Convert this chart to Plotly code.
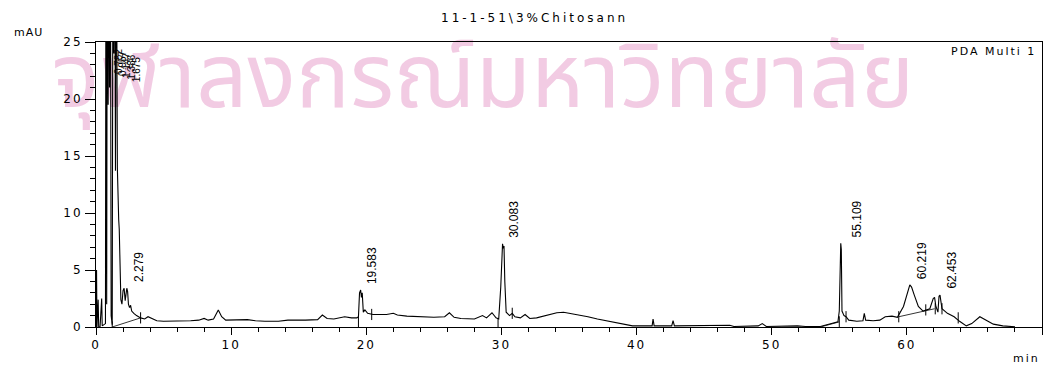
import plotly.graph_objects as go

# Detector trace (PDA Multi 1), retention time in min vs absorbance in mAU
rt = [0.00, 0.04, 0.07, 0.16, 0.20, 0.30, 0.42, 0.46, 0.70, 0.74, 0.79, 0.84, 0.90,
      0.95, 1.00, 1.06, 1.12, 1.16, 1.20, 1.26, 1.32, 1.38, 1.44, 1.50, 1.58, 1.62,
      1.68, 1.72, 1.78, 1.84, 1.92, 2.00, 2.08, 2.16, 2.34, 2.40, 2.48, 2.56, 2.64,
      2.80, 3.00, 3.30, 3.60, 3.85, 4.10, 4.50, 5.00, 6.00, 7.00, 7.60, 8.00, 8.30,
      8.70, 9.05, 9.30, 9.60, 10.50, 11.20, 11.80, 12.50, 13.50, 14.20, 15.50, 16.40,
      16.75, 17.10, 17.60, 18.00, 18.40, 18.90, 19.30, 19.42, 19.50, 19.64, 19.70,
      19.78, 19.90, 20.10, 20.50, 21.50, 22.00, 22.30, 23.00, 24.00, 25.00, 25.80,
      26.15, 26.50, 27.00, 28.00, 28.60, 28.90, 29.30, 29.60, 29.80, 29.95, 30.14,
      30.19, 30.25, 30.35, 30.60, 30.80, 31.00, 31.40, 31.75, 32.10, 32.60, 33.30,
      34.10, 34.60, 35.60, 36.40, 37.10, 38.20, 39.00, 39.70, 40.80, 41.15, 41.22,
      41.30, 42.60, 42.70, 42.80, 44.60, 46.90, 47.20, 49.00, 49.30, 49.60, 51.90,
      52.50, 53.60, 54.30, 54.90, 55.00, 55.15, 55.20, 55.35, 55.50, 55.70, 56.30,
      56.75, 56.85, 56.95, 57.50, 58.00, 58.40, 58.90, 59.30, 59.75, 60.35, 60.55,
      60.85, 61.20, 61.70, 61.95, 62.05, 62.15, 62.30, 62.38, 62.60, 63.00, 63.50,
      63.90, 64.40, 64.80, 65.40, 65.90, 66.40, 67.10, 68.00]
mau = [0.0, 5.0, 0.0, 2.4, 0.0, 0.0, 2.5, 0.1, 0.3, 40.0, 2.0, 40.0, 19.5,
       40.0, 21.0, 40.0, 1.0, 0.4, 0.2, 40.0, 24.0, 40.0, 13.7, 40.0, 14.0, 10.0,
       9.4, 8.6, 3.5, 2.4, 2.0, 3.2, 3.4, 2.3, 3.1, 2.0, 1.7, 1.9, 1.4,
       1.2, 1.0, 0.8, 0.7, 0.9, 0.75, 0.55, 0.5, 0.5, 0.55, 0.6, 0.75, 0.6,
       0.7, 1.5, 0.9, 0.6, 0.6, 0.65, 0.55, 0.5, 0.5, 0.6, 0.6, 0.65,
       1.05, 0.75, 0.7, 0.8, 0.9, 0.8, 0.8, 0.9, 3.0, 2.6, 3.0,
       1.3, 1.5, 1.2, 1.1, 1.1, 1.2, 1.05, 0.95, 0.9, 0.85, 0.9,
       1.25, 0.85, 0.75, 0.7, 1.0, 0.8, 1.25, 0.8, 0.7, 3.5, 6.9,
       7.1, 4.0, 1.3, 1.0, 1.2, 0.9, 0.8, 1.1, 0.75, 0.8, 1.0,
       1.25, 1.3, 1.1, 0.9, 0.7, 0.45, 0.25, 0.1, 0.1, 0.1, 0.7,
       0.1, 0.1, 0.55, 0.1, 0.12, 0.15, 0.05, 0.1, 0.3, 0.05, 0.1,
       0.05, 0.05, 0.25, 0.45, 1.4, 6.8, 1.4, 1.0, 0.9, 0.6, 0.5,
       0.55, 1.2, 0.6, 0.55, 0.6, 0.9, 0.95, 0.85, 1.8, 3.5, 2.8,
       1.8, 1.4, 1.6, 2.5, 2.6, 1.8, 1.3, 2.7, 1.6, 1.2, 0.9,
       0.5, 0.1, 0.3, 0.9, 0.6, 0.25, 0.1, 0.02]

# Integrated peaks: retention time label and apex height
peak_rt = [2.279, 19.583, 30.083, 55.109, 60.219, 62.453]
peak_h = [3.4, 3.25, 7.3, 7.35, 3.7, 2.8]
peak_shift = [12, 12, 12, 16, 12, 12]

# Off-scale early peaks, labelled along the top of the frame
early_rt = [0.782, 0.957, 1.147, 1.386, 1.675]

# Integration baselines (start/end pairs) and peak boundary marks
base_t = [[1.20, 3.30], [53.60, 55.00], [59.40, 62.05]]
base_v = [[0.0, 0.8], [0.0, 0.45], [0.9, 1.6]]
mark_t = [1.20, 3.30, 19.42, 20.40, 29.75, 30.80, 55.00, 55.50, 59.40, 61.40, 62.10, 62.60, 63.80]
mark_v = [0.0, 0.8, 0.4, 1.1, 0.3, 1.2, 0.45, 0.9, 0.9, 1.5, 1.6, 1.6, 0.8]

x_ticks = [0, 10, 20, 30, 40, 50, 60, 70]
y_ticks = [0, 5, 10, 15, 20, 25]

# merge labelled apexes into the trace
pts = sorted(list(zip(rt, mau)) + list(zip(peak_rt, peak_h)))
trace_t = [p[0] for p in pts]
trace_v = [p[1] for p in pts]

FONT = "DejaVu Sans, Liberation Sans, Arial, sans-serif"
WM_FONT = "Noto Sans Thai, Noto Sans Thai Looped, Loma, Garuda, sans-serif"


def spaced(s, px=2):
    return '<span style="letter-spacing:%dpx">%s</span>' % (px, s)


fig = go.Figure()

for bt, bv in zip(base_t, base_v):
    fig.add_trace(go.Scatter(x=bt, y=bv, mode="lines",
                             line=dict(color="black", width=0.8),
                             hoverinfo="skip", showlegend=False))

fig.add_trace(go.Scatter(x=trace_t, y=trace_v, mode="lines",
                         line=dict(color="black", width=1.1),
                         showlegend=False, name="PDA Multi 1"))

fig.add_trace(go.Scatter(x=mark_t, y=mark_v, mode="markers",
                         marker=dict(symbol="line-ns", size=8,
                                     line=dict(color="black", width=1)),
                         hoverinfo="skip", showlegend=False))

annotations = []
for t, h, s in zip(peak_rt, peak_h, peak_shift):
    annotations.append(dict(x=t, y=h, xref="x", yref="y", text="%.3f" % t,
                            textangle=-90, showarrow=False, xanchor="center",
                            yanchor="bottom", xshift=s, yshift=4,
                            font=dict(family="Liberation Sans Narrow, Liberation Sans, Arial", size=12,
                                      color="black")))
for i, t in enumerate(early_rt):
    annotations.append(dict(x=t, y=1, xref="x", yref="paper", text="%.3f" % t,
                            textangle=-90, showarrow=False, xanchor="center",
                            yanchor="top", xshift=12 + i * 1.5, yshift=-5 - i * 2,
                            font=dict(family="Liberation Sans Narrow, Liberation Sans, Arial", size=10,
                                      color="black")))

annotations += [
    dict(x=0.464, y=1.084, xref="paper", yref="paper", showarrow=False,
         xanchor="center", yanchor="middle", text=spaced("11-1-51\\3%Chitosann", 3),
         font=dict(family=FONT, size=12, color="black")),
    dict(x=-0.071, y=1.032, xref="paper", yref="paper", showarrow=False,
         xanchor="center", yanchor="middle", text=spaced("mAU", 1),
         font=dict(family=FONT, size=11, color="black")),
    dict(x=0.984, y=-0.109, xref="paper", yref="paper", showarrow=False,
         xanchor="center", yanchor="middle", text=spaced("min", 2),
         font=dict(family=FONT, size=11, color="black")),
    dict(x=0.996, y=0.965, xref="paper", yref="paper", showarrow=False,
         xanchor="right", yanchor="middle", text=spaced("PDA Multi 1", 2),
         font=dict(family=FONT, size=11, color="black")),
]

fig.update_layout(
    width=1050, height=365,
    margin=dict(l=96, r=8, t=42, b=38),
    paper_bgcolor="white", plot_bgcolor="white",
    annotations=annotations,
    shapes=[dict(type="rect", xref="paper", yref="paper",
                 x0=-0.05, x1=0.868, y0=0.68, y1=1.02, layer="below",
                 line=dict(width=0), fillcolor="rgba(0,0,0,0)",
                 label=dict(text="จุฬาลงกรณ์มหาวิทยาลัย",
                            font=dict(family=WM_FONT, size=90, color="#F2CBE3"),
                            textposition="middle center"))],
    xaxis=dict(range=[0, 70], showgrid=False, zeroline=False, showline=True,
               linecolor="black", linewidth=1, mirror=True,
               tickvals=x_ticks, ticktext=[spaced(str(v), 2) for v in x_ticks],
               ticks="outside", ticklen=7, tickcolor="black",
               minor=dict(dtick=2, ticks="outside", ticklen=4, tickcolor="black"),
               tickfont=dict(family=FONT, size=12, color="black")),
    yaxis=dict(range=[0, 25], showgrid=False, zeroline=False, showline=True,
               linecolor="black", linewidth=1, mirror=True,
               tickvals=y_ticks, ticktext=[spaced(str(v), 2) for v in y_ticks],
               ticks="outside", ticklen=10, tickcolor="black",
               minor=dict(dtick=1, ticks="outside", ticklen=5, tickcolor="black"),
               tickfont=dict(family=FONT, size=12, color="black")),
)

fig.write_html("out.html")
